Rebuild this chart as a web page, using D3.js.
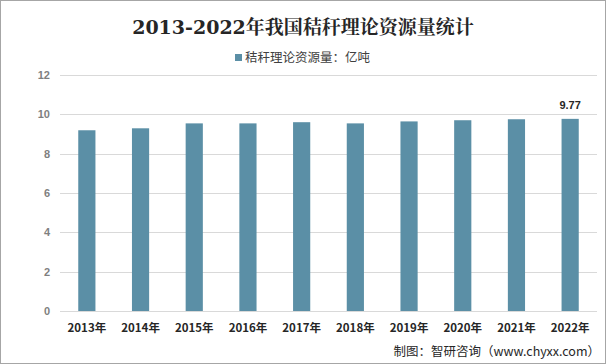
<!DOCTYPE html>
<html>
<head>
<meta charset="utf-8">
<script src="https://cdn.jsdelivr.net/npm/d3@7"></script>
<style>
  body { margin: 0; background: #fff; }
  svg { display: block; }
</style>
</head>
<body>
<svg id="chart"></svg>
<script>
// data
const years = ["2013年", "2014年", "2015年", "2016年", "2017年", "2018年", "2019年", "2020年", "2021年", "2022年"];
const values = [9.19, 9.29, 9.54, 9.54, 9.6, 9.54, 9.64, 9.7, 9.75, 9.77];
const yTicks = [0, 2, 4, 6, 8, 10, 12];
const seriesName = "秸秆理论资源量：亿吨";

const width = 606, height = 364;
const marginTop = 75, marginBottom = 53, marginLeft = 60, marginRight = 9;
const barColor = "#5B8FA6";
const cjk = "'Noto Sans CJK SC', 'Noto Sans', sans-serif";

const svg = d3.select("#chart")
    .attr("width", width)
    .attr("height", height)
    .attr("viewBox", [0, 0, width, height]);

// outer frame
svg.append("rect")
    .attr("x", 0.5).attr("y", 0.5)
    .attr("width", width - 1).attr("height", height - 1)
    .attr("fill", "#fff")
    .attr("stroke", "#a6a6a6");

const x = d3.scaleBand()
    .domain(years)
    .range([marginLeft, width - marginRight])
    .paddingInner(0.68)
    .paddingOuter(0.34);

const y = d3.scaleLinear()
    .domain([0, 12])
    .range([height - marginBottom, marginTop]);

// gridlines
svg.append("g")
    .attr("stroke", "#d9d9d9")
    .selectAll()
    .data(yTicks)
    .join("line")
    .attr("x1", marginLeft)
    .attr("x2", width - marginRight)
    .attr("y1", d => Math.round(y(d)) + 0.5)
    .attr("y2", d => Math.round(y(d)) + 0.5);

// y axis labels
svg.append("g")
    .attr("transform", `translate(${marginLeft - 10},0)`)
    .call(d3.axisLeft(y).tickValues(yTicks).tickSize(0).tickPadding(0))
    .call(g => g.select(".domain").remove())
    .call(g => g.selectAll("text")
        .attr("fill", "#7f7f7f")
        .attr("font-family", "'Liberation Sans', Arial, sans-serif")
        .attr("font-weight", "bold")
        .attr("font-size", 11));

// x axis labels
svg.append("g")
    .attr("transform", `translate(0,${height - marginBottom})`)
    .call(d3.axisBottom(x).tickSize(0).tickPadding(13))
    .call(g => g.select(".domain").remove())
    .call(g => g.selectAll("text")
        .attr("fill", "#262626")
        .attr("font-family", cjk)
        .attr("font-weight", "bold")
        .attr("font-size", 11.5));

// bars
svg.append("g")
    .attr("fill", barColor)
    .selectAll()
    .data(values)
    .join("rect")
    .attr("x", (d, i) => x(years[i]))
    .attr("y", d => y(d))
    .attr("width", x.bandwidth())
    .attr("height", d => y(0) - y(d));

// label on last bar
svg.append("text")
    .attr("x", x(years[years.length - 1]) + x.bandwidth() / 2)
    .attr("y", y(values[values.length - 1]) - 10)
    .attr("text-anchor", "middle")
    .attr("fill", "#262626")
    .attr("font-family", "'Liberation Sans', Arial, sans-serif")
    .attr("font-weight", "bold")
    .attr("font-size", 11)
    .text(values[values.length - 1]);

// title
svg.append("text")
    .attr("x", width / 2)
    .attr("y", 34)
    .attr("text-anchor", "middle")
    .attr("fill", "#262626")
    .attr("font-family", "'DejaVu Serif', 'Noto Serif CJK SC', 'Noto Sans CJK SC', serif")
    .attr("font-weight", "bold")
    .attr("font-size", 19)
    .text("2013-2022年我国秸秆理论资源量统计");

// legend
const legend = svg.append("g").attr("transform", "translate(235,58)");
legend.append("rect")
    .attr("x", 0).attr("y", -4)
    .attr("width", 7).attr("height", 7)
    .attr("fill", barColor);
legend.append("text")
    .attr("x", 10).attr("y", 4)
    .attr("fill", "#404040")
    .attr("font-family", cjk)
    .attr("font-size", 12.5)
    .text(seriesName);

// source note
svg.append("text")
    .attr("x", width - 6)
    .attr("y", 356)
    .attr("text-anchor", "end")
    .attr("fill", "#262626")
    .attr("font-family", cjk)
    .attr("font-size", 12.5)
    .text("制图：智研咨询（www.chyxx.com）");
</script>
</body>
</html>
